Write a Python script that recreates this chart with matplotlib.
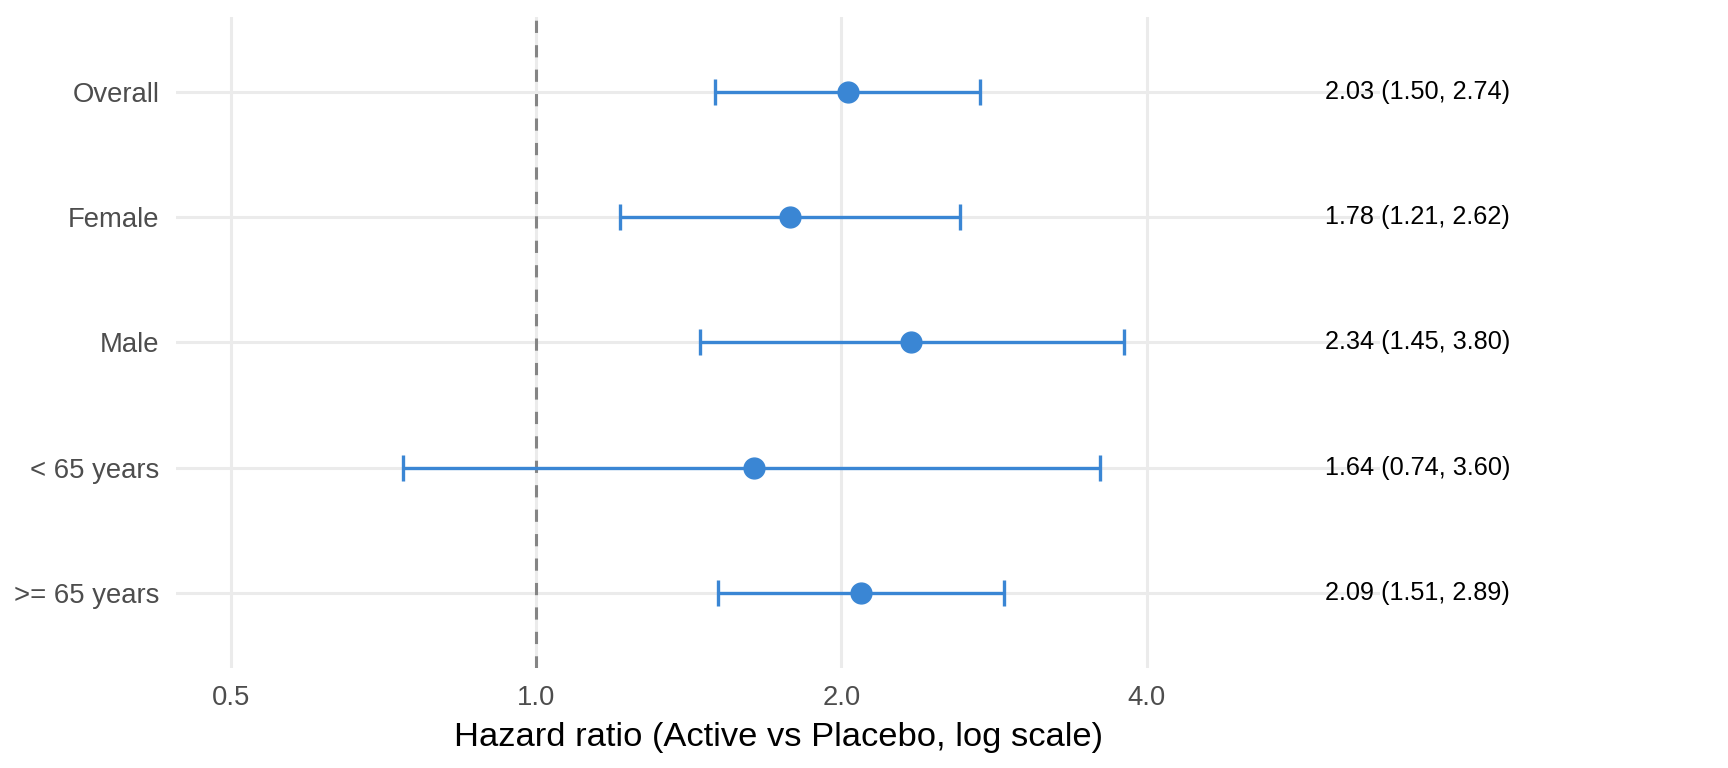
import numpy as np
import matplotlib
matplotlib.use("Agg")
import matplotlib.pyplot as plt

plt.rcParams["font.family"] = ["Liberation Sans", "DejaVu Sans"]

# forest plot data (top to bottom)
groups = ["Overall", "Female", "Male", "< 65 years", ">= 65 years"]
hr = [2.03, 1.78, 2.34, 1.64, 2.09]
lower = [1.50, 1.21, 1.45, 0.74, 1.51]
upper = [2.74, 2.62, 3.80, 3.60, 2.89]
x_breaks = [0.5, 1.0, 2.0, 4.0]
x_limits = [0.5, 6.0]
label_x = 6.0

BLUE = "#3a86d4"
GRID_COL = "#ebebeb"

fig = plt.figure(figsize=(17.28, 7.68), dpi=100)
ax = fig.add_axes([176 / 1728, 1 - 668 / 768, (1380 - 176) / 1728, (668 - 16.5) / 768])

ypos = np.arange(len(groups))
hr_a = np.array(hr)
err = np.vstack([hr_a - np.array(lower), np.array(upper) - hr_a])

ax.set_xscale("log")
lo, hi = np.log(x_limits[0]), np.log(x_limits[1])
pad = 0.05 * (hi - lo)
ax.set_xlim(np.exp(lo - pad), np.exp(hi + pad))
ax.set_ylim(len(groups) - 0.4, -0.6)

for yy in ypos:
    ax.axhline(yy, color=GRID_COL, lw=2.2, zorder=0)
for xb in x_breaks:
    ax.axvline(xb, color=GRID_COL, lw=2.2, zorder=0)

ax.axvline(1.0, color="#858585", lw=2.2, ls=(0, (4, 4)), zorder=1)

ax.errorbar(hr, ypos, xerr=err, fmt="none", ecolor=BLUE, elinewidth=2.4,
            capsize=9.7, capthick=2.4, zorder=3)
ax.plot(hr, ypos, "o", color=BLUE, markersize=15, zorder=4)

for yy, h, l, u in zip(ypos, hr, lower, upper):
    ax.text(label_x, yy, f"{h:.2f} ({l:.2f}, {u:.2f})", ha="left", va="center",
            fontsize=18.2, color="black", clip_on=False)

ax.set_xticks(x_breaks)
ax.set_xticklabels([f"{b:.1f}" for b in x_breaks])
ax.xaxis.set_minor_locator(matplotlib.ticker.NullLocator())
ax.set_yticks(ypos)
ax.set_yticklabels(groups)
ax.tick_params(axis="both", length=0, labelsize=19.8, labelcolor="#4d4d4d", pad=12)
for s in ax.spines.values():
    s.set_visible(False)
ax.set_xlabel("Hazard ratio (Active vs Placebo, log scale)", fontsize=24.8,
              color="black", labelpad=8)

fig.savefig("out.png", dpi=100)
